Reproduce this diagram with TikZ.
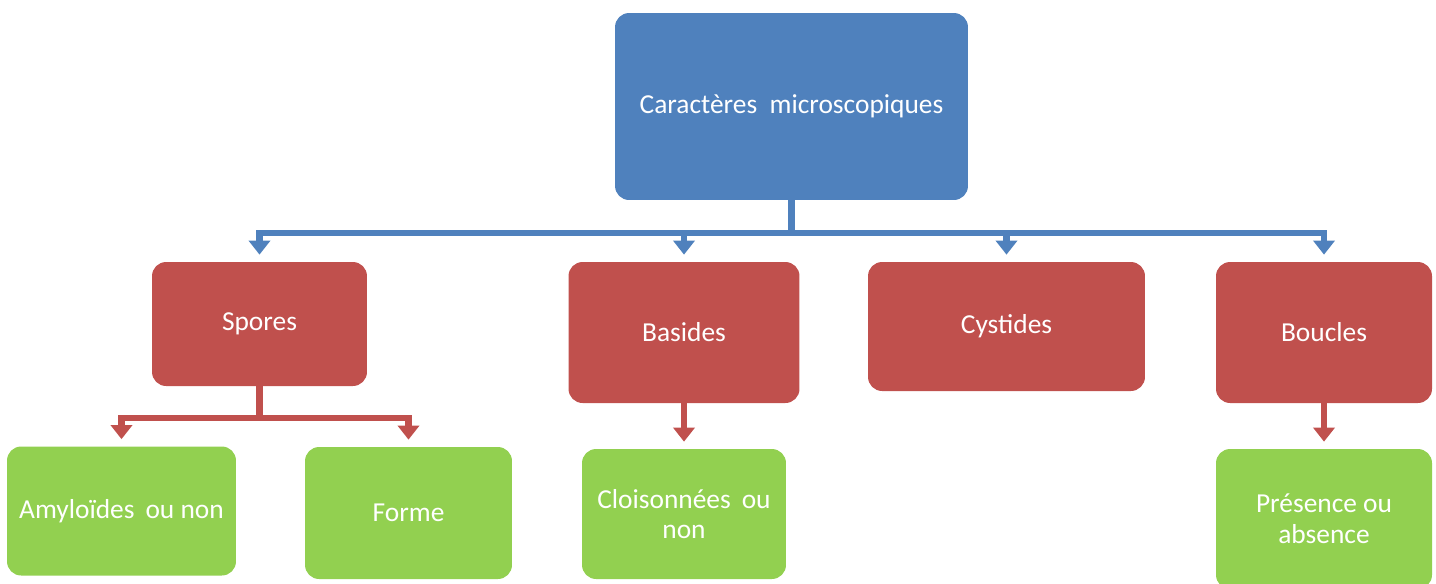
\documentclass[tikz,border=0pt]{standalone}
\usepackage{fontspec}
\setmainfont{Carlito}
\usetikzlibrary{arrows.meta}

\definecolor{topblue}{HTML}{4F81BD}
\definecolor{midred}{HTML}{C0504D}
\definecolor{leafgreen}{HTML}{92D050}

\tikzset{
root/.style={fill=topblue},
branch/.style={fill=midred},
leaf/.style={fill=leafgreen},
blueline/.style={draw=topblue,line width=3.6pt},
redline/.style={draw=midred,line width=3.6pt},
tipped/.style={-{Triangle[width=12pt,length=8pt]},shorten >=4pt}}

\begin{document}
\begin{tikzpicture}
  [x=0.02cm,y=-0.02cm,
   every node/.style={rounded corners=8pt,text=white,align=center,inner sep=2pt,
     font=\fontsize{15.6}{17.5}\selectfont}]
   \useasboundingbox (0,0) rectangle (1436,583);
   \node[root,minimum width=7.06cm,minimum height=3.74cm] (carac) at (791.5,106.5) {Caract\`eres\hspace{0.45em}microscopiques};
   \node[branch,minimum width=4.3cm,minimum height=2.48cm] (spores) at (259.5,324) {Spores};
   \node[branch,minimum width=4.62cm,minimum height=2.82cm] (basides) at (684,332.5) {Basides};
   \node[branch,minimum width=5.54cm,minimum height=2.58cm] (cystides) at (1006.5,326.5) {Cystides};
   \node[branch,minimum width=4.32cm,minimum height=2.82cm] (boucles) at (1324,332.5) {Boucles};
   \node[leaf,minimum width=4.58cm,minimum height=2.58cm] (amylo) at (121.5,511) {Amylo\"ides\hspace{0.4em}ou non};
   \node[leaf,minimum width=4.14cm,minimum height=2.64cm] (forme) at (408.5,513) {Forme};
   \node[leaf,minimum width=4.08cm,minimum height=2.6cm] (cloison) at (684,514) {Cloisonn\'ees\hspace{0.4em}ou\\non};
   \node[leaf,minimum width=4.32cm,minimum height=2.8cm] (presence) at (1324,519) {Pr\'esence ou\\absence};

   \coordinate (hub) at (791.5,233);
   \coordinate (fork) at (259.5,418);
   \draw[blueline] (carac.south) -- (hub);
   \draw[blueline,tipped] (hub) -| (spores.north);
   \draw[blueline,tipped] (hub) -| (basides.north);
   \draw[blueline,tipped] (hub) -| (cystides.north);
   \draw[blueline,tipped] (hub) -| (boucles.north);
   \draw[redline] (spores.south) -- (fork);
   \draw[redline,tipped] (fork) -| (amylo.north);
   \draw[redline,tipped] (fork) -| (forme.north);
   \draw[redline,tipped] (basides.south) -- (cloison.north);
   \draw[redline,tipped] (boucles.south) -- (presence.north);
\end{tikzpicture}
\end{document}
